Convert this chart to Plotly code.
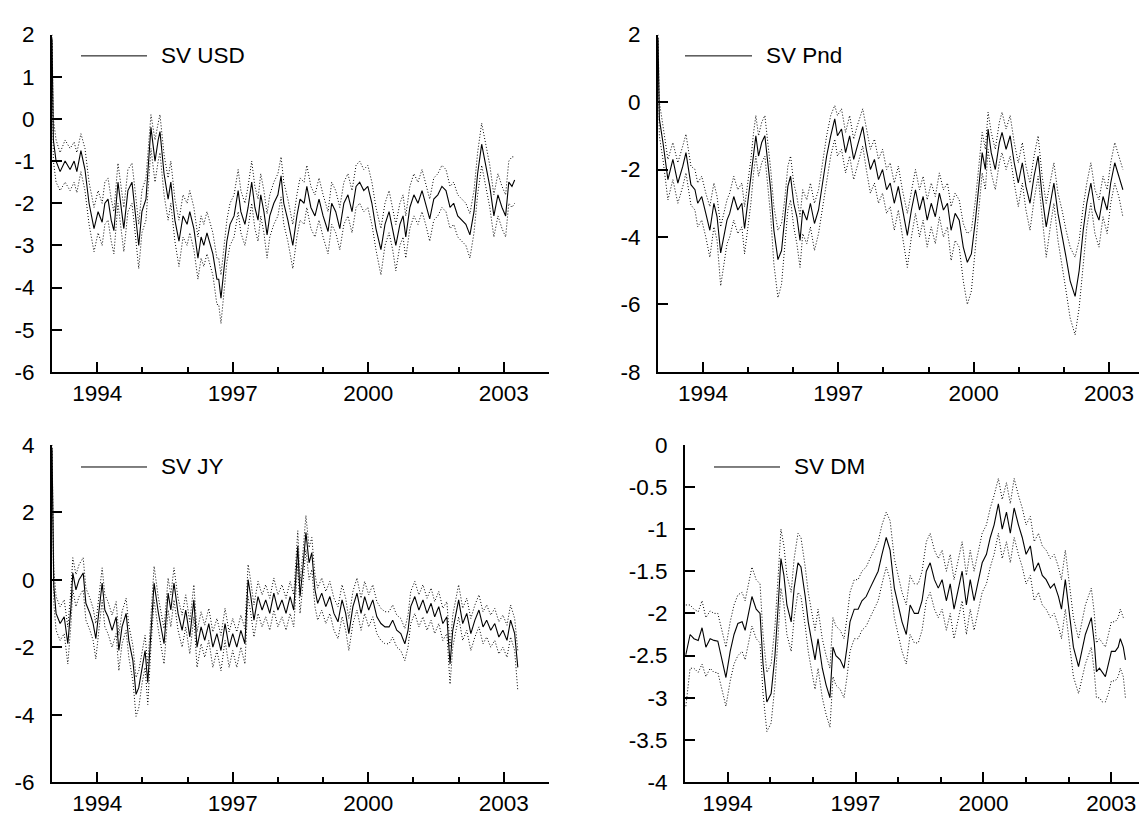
import plotly.graph_objects as go

# ---------------- data (decimal years, log-volatility) ----------------
t_usd = [1993.00, 1993.03, 1993.09, 1993.18, 1993.29, 1993.40, 1993.49, 1993.55, 1993.64, 1993.73,
         1993.82, 1993.93, 1994.02, 1994.11, 1994.17, 1994.24, 1994.31, 1994.37, 1994.46, 1994.53,
         1994.59, 1994.68, 1994.77, 1994.84, 1994.92, 1994.99, 1995.08, 1995.19, 1995.28, 1995.35,
         1995.39, 1995.48, 1995.57, 1995.63, 1995.72, 1995.81, 1995.90, 1995.99, 1996.05, 1996.14,
         1996.23, 1996.30, 1996.36, 1996.43, 1996.50, 1996.56, 1996.65, 1996.69, 1996.74, 1996.81,
         1996.87, 1996.94, 1997.03, 1997.12, 1997.18, 1997.27, 1997.34, 1997.42, 1997.49, 1997.56,
         1997.62, 1997.69, 1997.76, 1997.82, 1997.91, 1998.00, 1998.07, 1998.13, 1998.22, 1998.33,
         1998.42, 1998.49, 1998.58, 1998.64, 1998.73, 1998.82, 1998.91, 1999.00, 1999.11, 1999.19,
         1999.28, 1999.37, 1999.46, 1999.55, 1999.64, 1999.73, 1999.81, 1999.90, 1999.99, 2000.08,
         2000.17, 2000.28, 2000.37, 2000.46, 2000.54, 2000.61, 2000.70, 2000.77, 2000.83, 2000.92,
         2001.01, 2001.10, 2001.19, 2001.27, 2001.36, 2001.45, 2001.54, 2001.63, 2001.72, 2001.81,
         2001.89, 2001.98, 2002.07, 2002.16, 2002.25, 2002.34, 2002.42, 2002.51, 2002.60, 2002.69,
         2002.78, 2002.87, 2002.96, 2003.04, 2003.11, 2003.18, 2003.24]
sv_usd = [1.9, -0.5, -1.0, -1.25, -1.0, -1.2, -1.0, -1.25, -0.75, -1.2,
          -2.0, -2.6, -2.2, -2.45, -2.0, -1.9, -2.4, -2.65, -1.5, -2.1,
          -2.6, -1.7, -1.5, -2.2, -3.0, -2.2, -1.9, -0.2, -1.0, -0.5,
          -0.3, -1.3, -1.9, -1.5, -2.4, -2.9, -2.3, -2.5, -2.2, -2.6,
          -3.3, -2.8, -3.0, -2.7, -3.0, -3.2, -3.8, -3.8, -4.25, -3.5,
          -2.9, -2.5, -2.3, -1.7, -2.2, -2.5, -2.1, -1.5, -2.1, -2.4,
          -1.8, -2.2, -2.75, -2.3, -2.0, -1.8, -1.35, -2.0, -2.4, -3.0,
          -2.3, -1.9, -2.0, -1.6, -2.1, -2.3, -1.9, -2.3, -2.67, -2.0,
          -2.2, -2.6, -2.0, -1.8, -2.2, -1.6, -1.5, -1.7, -1.6, -2.0,
          -2.6, -3.1, -2.5, -2.2, -2.6, -3.0, -2.5, -2.3, -2.8, -2.1,
          -1.8, -2.0, -1.7, -2.0, -2.37, -1.9, -1.8, -1.6, -1.7, -2.1,
          -2.0, -2.3, -2.4, -2.5, -2.75, -2.2, -1.3, -0.6, -1.1, -1.6,
          -2.3, -1.8, -2.1, -2.3, -1.5, -1.6, -1.45]
hi_usd = [2.0, 0.0, -0.5, -0.8, -0.5, -0.7, -0.55, -0.8, -0.35, -0.7,
          -1.5, -2.1, -1.7, -2.0, -1.5, -1.4, -1.9, -2.2, -1.05, -1.6,
          -2.1, -1.2, -1.05, -1.7, -2.5, -1.7, -1.4, 0.1, -0.5, -0.1,
          0.1, -0.85, -1.4, -1.0, -1.9, -2.4, -1.8, -2.0, -1.7, -2.1,
          -2.8, -2.3, -2.5, -2.2, -2.5, -2.7, -3.3, -3.3, -3.7, -3.0,
          -2.4, -2.0, -1.8, -1.2, -1.7, -2.0, -1.6, -1.0, -1.6, -1.9,
          -1.3, -1.7, -2.25, -1.8, -1.5, -1.3, -0.9, -1.5, -1.9, -2.5,
          -1.8, -1.4, -1.5, -1.1, -1.6, -1.8, -1.4, -1.8, -2.2, -1.5,
          -1.7, -2.1, -1.5, -1.3, -1.7, -1.1, -1.0, -1.2, -1.1, -1.5,
          -2.1, -2.6, -2.0, -1.7, -2.1, -2.5, -2.0, -1.8, -2.3, -1.6,
          -1.3, -1.5, -1.2, -1.5, -1.9, -1.4, -1.3, -1.1, -1.2, -1.6,
          -1.5, -1.8, -1.9, -2.0, -2.25, -1.7, -0.8, -0.1, -0.6, -1.1,
          -1.8, -1.3, -1.6, -1.8, -1.0, -0.9, -0.9]
lo_usd = [1.8, -1.0, -1.5, -1.7, -1.5, -1.7, -1.5, -1.75, -1.25, -1.7,
          -2.5, -3.15, -2.7, -3.0, -2.5, -2.4, -2.9, -3.2, -2.0, -2.6,
          -3.15, -2.2, -2.0, -2.7, -3.55, -2.7, -2.4, -0.7, -1.5, -1.0,
          -0.8, -1.8, -2.4, -2.0, -2.9, -3.5, -2.8, -3.0, -2.7, -3.1,
          -3.8, -3.3, -3.5, -3.2, -3.5, -3.7, -4.4, -4.4, -4.85, -4.1,
          -3.4, -3.0, -2.8, -2.2, -2.7, -3.0, -2.6, -2.0, -2.6, -2.9,
          -2.3, -2.7, -3.3, -2.8, -2.5, -2.3, -1.85, -2.5, -2.9, -3.55,
          -2.8, -2.4, -2.5, -2.1, -2.6, -2.8, -2.4, -2.8, -3.2, -2.5,
          -2.7, -3.1, -2.5, -2.3, -2.7, -2.1, -2.0, -2.2, -2.1, -2.5,
          -3.1, -3.7, -3.0, -2.7, -3.1, -3.6, -3.0, -2.8, -3.3, -2.6,
          -2.3, -2.5, -2.2, -2.5, -2.9, -2.4, -2.3, -2.1, -2.2, -2.6,
          -2.5, -2.8, -2.9, -3.0, -3.3, -2.7, -1.8, -1.1, -1.6, -2.1,
          -2.8, -2.3, -2.6, -2.8, -2.0, -2.1, -2.0]

t_pnd = [1993.00, 1993.03, 1993.11, 1993.18, 1993.22, 1993.33, 1993.44, 1993.55, 1993.62, 1993.73,
         1993.82, 1993.88, 1993.97, 1994.06, 1994.15, 1994.24, 1994.31, 1994.39, 1994.46, 1994.53,
         1994.59, 1994.68, 1994.77, 1994.86, 1994.92, 1994.99, 1995.06, 1995.12, 1995.17, 1995.23,
         1995.30, 1995.37, 1995.43, 1995.50, 1995.57, 1995.66, 1995.74, 1995.81, 1995.88, 1995.94,
         1996.01, 1996.08, 1996.15, 1996.21, 1996.30, 1996.38, 1996.47, 1996.56, 1996.65, 1996.74,
         1996.83, 1996.92, 1996.98, 1997.07, 1997.16, 1997.25, 1997.34, 1997.42, 1997.54, 1997.62,
         1997.71, 1997.80, 1997.89, 1997.98, 1998.07, 1998.15, 1998.24, 1998.33, 1998.42, 1998.53,
         1998.62, 1998.71, 1998.80, 1998.88, 1998.97, 1999.06, 1999.15, 1999.24, 1999.33, 1999.42,
         1999.50, 1999.59, 1999.68, 1999.77, 1999.86, 1999.95, 2000.04, 2000.12, 2000.19, 2000.26,
         2000.32, 2000.39, 2000.48, 2000.57, 2000.63, 2000.72, 2000.81, 2000.90, 2000.99, 2001.08,
         2001.16, 2001.25, 2001.34, 2001.43, 2001.52, 2001.61, 2001.70, 2001.78, 2001.87, 2001.96,
         2002.05, 2002.14, 2002.25, 2002.34, 2002.43, 2002.51, 2002.60, 2002.69, 2002.78, 2002.87,
         2002.96, 2003.04, 2003.13, 2003.22, 2003.31]
sv_pnd = [1.9, -0.5, -1.2, -2.0, -2.3, -1.7, -2.4, -1.9, -1.5, -2.45,
          -2.6, -3.0, -2.8, -3.3, -3.8, -3.0, -3.4, -4.47, -4.0, -3.5,
          -3.3, -2.8, -3.2, -3.0, -3.75, -3.0, -2.3, -1.5, -1.0, -1.6,
          -1.2, -1.0, -1.7, -2.6, -3.8, -4.67, -4.4, -3.5, -2.5, -2.2,
          -3.0, -3.4, -4.1, -3.2, -3.5, -3.0, -3.6, -3.2, -2.4, -1.6,
          -1.0, -0.5, -1.0, -0.8, -1.5, -1.0, -1.7, -1.3, -0.73, -1.4,
          -2.0, -1.7, -2.3, -2.0, -2.6, -2.4, -3.0, -2.5, -3.2, -3.95,
          -3.2, -2.6, -3.2, -2.8, -3.5, -3.0, -3.4, -2.7, -3.2, -3.0,
          -3.8, -3.3, -3.5, -4.3, -4.75, -4.5, -3.5, -2.4, -1.5, -2.0,
          -0.8, -1.5, -2.0, -1.2, -0.9, -1.4, -1.0, -1.8, -2.4, -1.8,
          -2.5, -3.0, -2.2, -1.6, -2.8, -3.7, -3.0, -2.4, -3.3, -3.9,
          -4.6, -5.3, -5.76, -5.0, -3.8, -3.0, -2.4, -3.2, -3.5, -2.8,
          -3.2, -2.4, -1.8, -2.2, -2.6]
hi_pnd = [2.0, 0.0, -0.7, -1.4, -1.7, -1.2, -1.8, -1.3, -0.95, -1.9,
          -2.0, -2.4, -2.2, -2.7, -3.1, -2.4, -2.8, -3.7, -3.3, -2.9,
          -2.7, -2.2, -2.6, -2.4, -3.1, -2.4, -1.7, -0.9, -0.4, -1.0,
          -0.6, -0.4, -1.1, -2.0, -3.1, -3.8, -3.6, -2.9, -1.9, -1.6,
          -2.4, -2.8, -3.4, -2.6, -2.9, -2.4, -3.0, -2.6, -1.8, -1.0,
          -0.4, -0.1, -0.4, -0.2, -0.9, -0.4, -1.1, -0.7, -0.2, -0.8,
          -1.4, -1.1, -1.7, -1.4, -2.0, -1.8, -2.4, -1.9, -2.6, -3.3,
          -2.6, -2.0, -2.6, -2.2, -2.9, -2.4, -2.8, -2.1, -2.6, -2.4,
          -3.1, -2.7, -2.9, -3.6, -3.9, -3.8, -2.9, -1.8, -0.9, -1.4,
          -0.3, -0.9, -1.4, -0.6, -0.3, -0.8, -0.4, -1.2, -1.8, -1.2,
          -1.9, -2.4, -1.6, -1.0, -2.2, -3.0, -2.4, -1.8, -2.7, -3.2,
          -3.8, -4.3, -4.6, -4.1, -3.1, -2.4, -1.8, -2.6, -2.9, -2.2,
          -2.6, -1.8, -1.2, -1.6, -2.0]
lo_pnd = [1.8, -1.0, -1.7, -2.6, -2.9, -2.3, -3.0, -2.5, -2.1, -3.05,
          -3.2, -3.7, -3.5, -4.0, -4.6, -3.7, -4.1, -5.45, -4.8, -4.2,
          -4.0, -3.5, -3.9, -3.7, -4.5, -3.7, -3.0, -2.1, -1.6, -2.2,
          -1.8, -1.6, -2.4, -3.4, -4.8, -5.8, -5.4, -4.3, -3.2, -2.9,
          -3.7, -4.2, -4.9, -3.9, -4.2, -3.7, -4.4, -3.9, -3.1, -2.3,
          -1.6, -1.1, -1.6, -1.4, -2.1, -1.6, -2.3, -1.9, -1.3, -2.0,
          -2.7, -2.4, -3.0, -2.7, -3.3, -3.1, -3.8, -3.2, -4.0, -4.9,
          -4.0, -3.3, -4.0, -3.5, -4.3, -3.7, -4.2, -3.4, -4.0, -3.7,
          -4.7, -4.1, -4.3, -5.3, -6.0, -5.6, -4.3, -3.1, -2.1, -2.6,
          -1.4, -2.1, -2.6, -1.8, -1.5, -2.0, -1.6, -2.4, -3.1, -2.4,
          -3.2, -3.8, -2.9, -2.2, -3.5, -4.6, -3.7, -3.0, -4.1, -4.8,
          -5.6, -6.4, -6.9, -6.1, -4.7, -3.7, -3.0, -3.9, -4.3, -3.4,
          -3.9, -3.0, -2.4, -2.8, -3.4]

t_jy = [1993.00, 1993.02, 1993.04, 1993.09, 1993.18, 1993.27, 1993.35, 1993.42, 1993.46, 1993.53,
        1993.60, 1993.69, 1993.75, 1993.84, 1993.91, 1993.97, 1994.04, 1994.11, 1994.17, 1994.24,
        1994.33, 1994.42, 1994.48, 1994.55, 1994.64, 1994.70, 1994.79, 1994.86, 1994.92, 1994.99,
        1995.06, 1995.12, 1995.19, 1995.26, 1995.35, 1995.41, 1995.48, 1995.57, 1995.63, 1995.70,
        1995.79, 1995.88, 1995.96, 1996.05, 1996.14, 1996.21, 1996.30, 1996.38, 1996.47, 1996.56,
        1996.65, 1996.74, 1996.83, 1996.92, 1997.00, 1997.09, 1997.18, 1997.27, 1997.34, 1997.40,
        1997.47, 1997.56, 1997.65, 1997.73, 1997.82, 1997.91, 1998.00, 1998.09, 1998.18, 1998.27,
        1998.35, 1998.44, 1998.49, 1998.55, 1998.62, 1998.69, 1998.75, 1998.82, 1998.88, 1998.97,
        1999.06, 1999.15, 1999.24, 1999.33, 1999.42, 1999.50, 1999.57, 1999.66, 1999.75, 1999.84,
        1999.92, 2000.01, 2000.10, 2000.19, 2000.28, 2000.37, 2000.46, 2000.54, 2000.63, 2000.72,
        2000.81, 2000.88, 2000.94, 2001.03, 2001.12, 2001.21, 2001.30, 2001.39, 2001.47, 2001.56,
        2001.65, 2001.74, 2001.81, 2001.87, 2001.94, 2002.00, 2002.09, 2002.18, 2002.27, 2002.36,
        2002.45, 2002.54, 2002.62, 2002.71, 2002.80, 2002.89, 2002.98, 2003.07, 2003.15, 2003.24,
        2003.31]
sv_jy = [3.9, 1.0, -0.2, -1.0, -1.3, -1.1, -1.9, -0.8, 0.2, -0.3,
         0.0, 0.2, -0.7, -1.0, -1.3, -1.75, -1.0, -0.1, -0.9, -1.1,
         -1.5, -1.1, -2.1, -1.4, -1.0, -1.8, -2.4, -3.4, -3.2, -2.6,
         -2.1, -3.05, -1.5, -0.1, -0.95, -1.4, -1.9, -0.4, -0.9, -0.1,
         -1.0, -1.5, -0.9, -1.7, -0.6, -2.0, -1.4, -1.8, -1.3, -2.0,
         -1.6, -2.1, -1.3, -2.0, -1.6, -2.0, -1.5, -1.9, 0.0, -0.5,
         -1.2, -0.5, -0.9, -0.6, -1.0, -0.4, -0.9, -0.6, -1.0, -0.5,
         -0.9, 1.0, -0.5, 0.3, 1.4, 0.5, 0.8, -0.3, -0.7, -0.4,
         -0.8, -0.5, -1.0, -1.25, -0.6, -1.0, -1.6, -0.8, -0.4, -1.0,
         -0.5, -0.9, -0.6, -1.1, -1.3, -1.4, -1.4, -1.2, -1.5, -1.6,
         -1.9, -1.5, -0.8, -0.5, -0.9, -0.6, -1.0, -0.7, -1.1, -0.8,
         -1.3, -1.1, -2.5, -1.5, -1.0, -0.6, -1.3, -1.0, -1.6, -1.2,
         -0.9, -1.4, -1.2, -1.5, -1.3, -1.7, -1.5, -1.8, -1.2, -1.6,
         -2.6]
hi_jy = [4.0, 1.5, 0.3, -0.5, -0.8, -0.6, -1.4, -0.3, 0.65, 0.15,
         0.45, 0.65, -0.25, -0.55, -0.85, -1.3, -0.55, 0.35, -0.45, -0.65,
         -1.05, -0.65, -1.65, -0.95, -0.55, -1.35, -1.95, -2.9, -2.7, -2.15,
         -1.65, -2.55, -1.05, 0.4, -0.5, -0.95, -1.45, 0.05, -0.45, 0.35,
         -0.55, -1.05, -0.45, -1.25, -0.15, -1.55, -0.95, -1.35, -0.85, -1.55,
         -1.15, -1.65, -0.85, -1.55, -1.15, -1.55, -1.05, -1.45, 0.45, -0.05,
         -0.75, -0.05, -0.45, -0.15, -0.55, 0.05, -0.45, -0.15, -0.55, -0.05,
         -0.45, 1.45, -0.05, 0.75, 1.9, 0.95, 1.25, 0.15, -0.25, 0.05,
         -0.35, -0.05, -0.55, -0.8, -0.15, -0.55, -1.15, -0.35, 0.05, -0.55,
         -0.05, -0.45, -0.15, -0.65, -0.85, -0.95, -0.95, -0.75, -1.05, -1.15,
         -1.45, -1.05, -0.35, -0.05, -0.45, -0.15, -0.55, -0.25, -0.65, -0.35,
         -0.85, -0.65, -2.0, -1.05, -0.55, -0.15, -0.85, -0.55, -1.15, -0.75,
         -0.45, -0.95, -0.75, -1.05, -0.85, -1.25, -1.05, -1.35, -0.75, -1.15,
         -2.1]
lo_jy = [3.8, 0.5, -0.7, -1.5, -1.8, -1.6, -2.5, -1.3, -0.3, -0.8,
         -0.5, -0.3, -1.2, -1.5, -1.8, -2.35, -1.5, -0.6, -1.4, -1.6,
         -2.0, -1.6, -2.7, -1.9, -1.5, -2.3, -3.0, -4.05, -3.8, -3.1,
         -2.6, -3.7, -2.0, -0.6, -1.45, -1.9, -2.5, -0.9, -1.4, -0.6,
         -1.5, -2.0, -1.4, -2.2, -1.1, -2.6, -1.9, -2.3, -1.8, -2.6,
         -2.1, -2.7, -1.8, -2.6, -2.1, -2.6, -2.0, -2.5, -0.5, -1.0,
         -1.7, -1.0, -1.4, -1.1, -1.5, -0.9, -1.4, -1.1, -1.5, -1.0,
         -1.4, 0.5, -1.0, -0.2, 0.9, 0.0, 0.3, -0.8, -1.2, -0.9,
         -1.3, -1.0, -1.5, -1.75, -1.1, -1.5, -2.1, -1.3, -0.9, -1.5,
         -1.0, -1.4, -1.1, -1.6, -1.8, -1.9, -1.9, -1.7, -2.0, -2.1,
         -2.4, -2.0, -1.3, -1.0, -1.4, -1.1, -1.5, -1.2, -1.6, -1.3,
         -1.8, -1.6, -3.1, -2.0, -1.5, -1.1, -1.8, -1.5, -2.1, -1.7,
         -1.4, -1.9, -1.7, -2.0, -1.8, -2.2, -2.0, -2.3, -1.7, -2.1,
         -3.3]

t_dm = [1993.02, 1993.12, 1993.21, 1993.31, 1993.40, 1993.49, 1993.59, 1993.68, 1993.77, 1993.87,
        1993.96, 1994.06, 1994.15, 1994.24, 1994.34, 1994.41, 1994.50, 1994.57, 1994.67, 1994.76,
        1994.83, 1994.92, 1995.02, 1995.11, 1995.18, 1995.25, 1995.32, 1995.39, 1995.49, 1995.56,
        1995.65, 1995.72, 1995.82, 1995.89, 1995.96, 1996.05, 1996.12, 1996.22, 1996.31, 1996.40,
        1996.47, 1996.54, 1996.64, 1996.73, 1996.80, 1996.87, 1996.97, 1997.06, 1997.15, 1997.25,
        1997.34, 1997.44, 1997.53, 1997.62, 1997.72, 1997.81, 1997.91, 1998.00, 1998.09, 1998.19,
        1998.28, 1998.38, 1998.47, 1998.56, 1998.66, 1998.75, 1998.85, 1998.94, 1999.03, 1999.13,
        1999.22, 1999.31, 1999.41, 1999.50, 1999.60, 1999.69, 1999.78, 1999.88, 1999.97, 2000.07,
        2000.16, 2000.25, 2000.35, 2000.44, 2000.54, 2000.63, 2000.72, 2000.82, 2000.91, 2001.00,
        2001.10, 2001.19, 2001.29, 2001.38, 2001.47, 2001.57, 2001.66, 2001.76, 2001.83, 2001.92,
        2002.01, 2002.11, 2002.23, 2002.32, 2002.39, 2002.46, 2002.53, 2002.60, 2002.65, 2002.72,
        2002.79, 2002.86, 2002.93, 2003.00, 2003.09, 2003.16, 2003.21, 2003.28, 2003.33]
sv_dm = [-2.49, -2.25, -2.3, -2.32, -2.17, -2.4, -2.3, -2.32, -2.33, -2.55,
         -2.76, -2.45, -2.25, -2.12, -2.1, -2.2, -1.95, -1.8, -1.95, -2.0,
         -2.6, -3.05, -2.95, -2.5, -1.95, -1.35, -1.55, -1.9, -2.1, -1.7,
         -1.4, -1.45, -1.8, -2.1, -2.3, -2.55, -2.3, -2.65, -2.85, -3.0,
         -2.4, -2.5, -2.55, -2.65, -2.4, -2.1, -1.95, -1.95, -1.85, -1.8,
         -1.7, -1.6, -1.5, -1.3, -1.1, -1.25, -1.7, -1.9, -2.1, -2.25,
         -1.9, -2.0, -2.0, -1.85, -1.5, -1.4, -1.6, -1.7, -1.6, -1.85,
         -1.65, -1.95, -1.7, -1.5, -1.9, -1.6, -1.85, -1.6, -1.4, -1.3,
         -1.1, -0.95, -0.7, -1.0, -0.8, -1.05, -0.75, -0.95, -1.1, -1.3,
         -1.2, -1.5, -1.4, -1.55, -1.6, -1.7, -1.65, -1.8, -1.95, -1.6,
         -2.0, -2.4, -2.63, -2.4, -2.25, -2.15, -2.05, -2.35, -2.69, -2.65,
         -2.7, -2.75, -2.6, -2.45, -2.45, -2.4, -2.3, -2.4, -2.55]
hi_dm = [-1.9, -1.9, -1.95, -1.98, -1.85, -2.05, -1.97, -2.0, -2.0, -2.2,
         -2.4, -2.1, -1.9, -1.78, -1.75, -1.85, -1.6, -1.45, -1.6, -1.65,
         -2.25, -2.7, -2.6, -2.15, -1.6, -1.0, -1.2, -1.55, -1.75, -1.35,
         -1.05, -1.1, -1.45, -1.75, -1.95, -2.2, -1.95, -2.3, -2.5, -2.65,
         -2.05, -2.15, -2.2, -2.3, -2.05, -1.75, -1.6, -1.6, -1.5, -1.45,
         -1.35, -1.25, -1.15, -0.95, -0.8, -0.9, -1.35, -1.55, -1.75, -1.9,
         -1.55, -1.65, -1.65, -1.5, -1.15, -1.05, -1.25, -1.35, -1.25, -1.5,
         -1.3, -1.6, -1.35, -1.15, -1.55, -1.25, -1.5, -1.25, -1.05, -0.95,
         -0.75, -0.6, -0.4, -0.65, -0.45, -0.7, -0.4, -0.6, -0.75, -0.95,
         -0.85, -1.15, -1.05, -1.2, -1.25, -1.35, -1.3, -1.45, -1.6, -1.25,
         -1.65, -2.05, -2.3, -2.05, -1.9, -1.8, -1.7, -2.0, -2.35, -2.3,
         -2.35, -2.4, -2.25, -2.1, -2.1, -2.05, -1.95, -2.05, -2.05]
lo_dm = [-3.1, -2.65, -2.65, -2.7, -2.6, -2.75, -2.65, -2.7, -2.7, -2.9,
         -3.1, -2.8, -2.6, -2.5, -2.45, -2.55, -2.3, -2.15, -2.3, -2.35,
         -2.95, -3.4, -3.3, -2.85, -2.3, -1.7, -1.9, -2.25, -2.45, -2.05,
         -1.75, -1.8, -2.15, -2.45, -2.65, -2.9, -2.65, -3.0, -3.2, -3.35,
         -2.75, -2.85, -2.9, -3.0, -2.75, -2.45, -2.3, -2.3, -2.2, -2.15,
         -2.05, -1.95, -1.85, -1.65, -1.45, -1.6, -2.05, -2.25, -2.45, -2.6,
         -2.25, -2.35, -2.35, -2.2, -1.85, -1.75, -1.95, -2.05, -1.95, -2.2,
         -2.0, -2.3, -2.05, -1.85, -2.25, -1.95, -2.2, -1.95, -1.75, -1.65,
         -1.45, -1.3, -1.05, -1.35, -1.15, -1.4, -1.1, -1.3, -1.45, -1.65,
         -1.55, -1.85, -1.75, -1.9, -1.95, -2.05, -2.0, -2.15, -2.3, -1.95,
         -2.35, -2.75, -2.95, -2.75, -2.6, -2.5, -2.4, -2.7, -3.0, -3.0,
         -3.05, -3.05, -2.95, -2.8, -2.8, -2.75, -2.65, -2.75, -3.0]

labels = ["SV USD", "SV Pnd", "SV JY", "SV DM"]
y_ranges = [(-6, 2), (-8, 2), (-6, 4), (-4, 0)]
y_ticks = [[-6, -5, -4, -3, -2, -1, 0, 1, 2],
           [-8, -6, -4, -2, 0, 2],
           [-6, -4, -2, 0, 2, 4],
           [-4, -3.5, -3, -2.5, -2, -1.5, -1, -0.5, 0]]
y_ticktext = [[str(v) for v in y_ticks[0]],
              [str(v) for v in y_ticks[1]],
              [str(v) for v in y_ticks[2]],
              ["-4", "-3.5", "-3", "-2.5", "-2", "-1.5", "-1", "-0.5", "0"]]
x_major = [1994, 1997, 2000, 2003]
x_minor = list(range(1993, 2005))

panels = [(t_usd, sv_usd, hi_usd, lo_usd),
          (t_pnd, sv_pnd, hi_pnd, lo_pnd),
          (t_jy, sv_jy, hi_jy, lo_jy),
          (t_dm, sv_dm, hi_dm, lo_dm)]

for i, (t, m, h, l) in enumerate(panels):
    assert len(t) == len(m) == len(h) == len(l), (i, len(t), len(m), len(h), len(l))

# ---------------- layout geometry (pixels) ----------------
W, H = 1147, 823
boxes = [(44, 541, 15, 363), (650, 1146, 15, 363), (44, 541, 438, 786), (677, 1146, 438, 786)]
legend_pos = [(73, 139, 152, 37), (677, 744, 757, 37), (73, 139, 152, 461), (706, 772, 785, 461)]

FONT = "Liberation Sans, Arial, Helvetica, sans-serif"
FS = 22.5

fig = go.Figure()
for i, (t, m, h, l) in enumerate(panels):
    xa = "x" if i == 0 else f"x{i+1}"
    ya = "y" if i == 0 else f"y{i+1}"
    for band in (h, l):
        fig.add_trace(go.Scatter(x=t, y=band, mode="lines", xaxis=xa, yaxis=ya,
                                 line=dict(color="black", width=1, dash="1px,2px"),
                                 showlegend=False, hoverinfo="skip"))
    fig.add_trace(go.Scatter(x=t, y=m, mode="lines", xaxis=xa, yaxis=ya,
                             line=dict(color="black", width=1.1),
                             showlegend=False, name=labels[i]))

shapes = []
annotations = []
for i, (x0, x1, y0, y1) in enumerate(boxes):
    sfx = "" if i == 0 else str(i + 1)
    xdom = [x0 / W, x1 / W]
    ydom = [1 - y1 / H, 1 - y0 / H]
    common = dict(showline=True, linecolor="black", linewidth=2, showgrid=False, zeroline=False,
                  ticks="inside", tickcolor="black", tickwidth=2, ticklen=10,
                  tickfont=dict(family=FONT, size=FS, color="black"))
    fig.layout["xaxis" + sfx] = dict(domain=xdom, range=[1993, 2004], anchor="y" + sfx,
                                     tickmode="array", tickvals=x_major,
                                     ticktext=[str(v) for v in x_major],
                                     minor=dict(tickmode="array", tickvals=x_minor, ticks="inside",
                                                ticklen=5, tickwidth=2, tickcolor="black"),
                                     ticklabelstandoff=0, **common)
    fig.layout["yaxis" + sfx] = dict(domain=ydom, range=list(y_ranges[i]), anchor="x" + sfx,
                                     tickmode="array", tickvals=y_ticks[i], ticktext=y_ticktext[i],
                                     ticklabelstandoff=11, **common)
    lx0, lx1, tx, ly = legend_pos[i]
    shapes.append(dict(type="line", xref="paper", yref="paper", x0=lx0 / W, x1=lx1 / W,
                       y0=1 - ly / H, y1=1 - ly / H, line=dict(color="black", width=1)))
    annotations.append(dict(xref="paper", yref="paper", x=tx / W, y=1 - ly / H, text=labels[i],
                            showarrow=False, xanchor="left", yanchor="middle", borderpad=0,
                            font=dict(family=FONT, size=FS, color="black")))

fig.update_layout(width=W, height=H, autosize=False, margin=dict(l=0, r=0, t=0, b=0),
                  paper_bgcolor="white", plot_bgcolor="white", showlegend=False,
                  shapes=shapes, annotations=annotations)

fig.write_html("out.html")
